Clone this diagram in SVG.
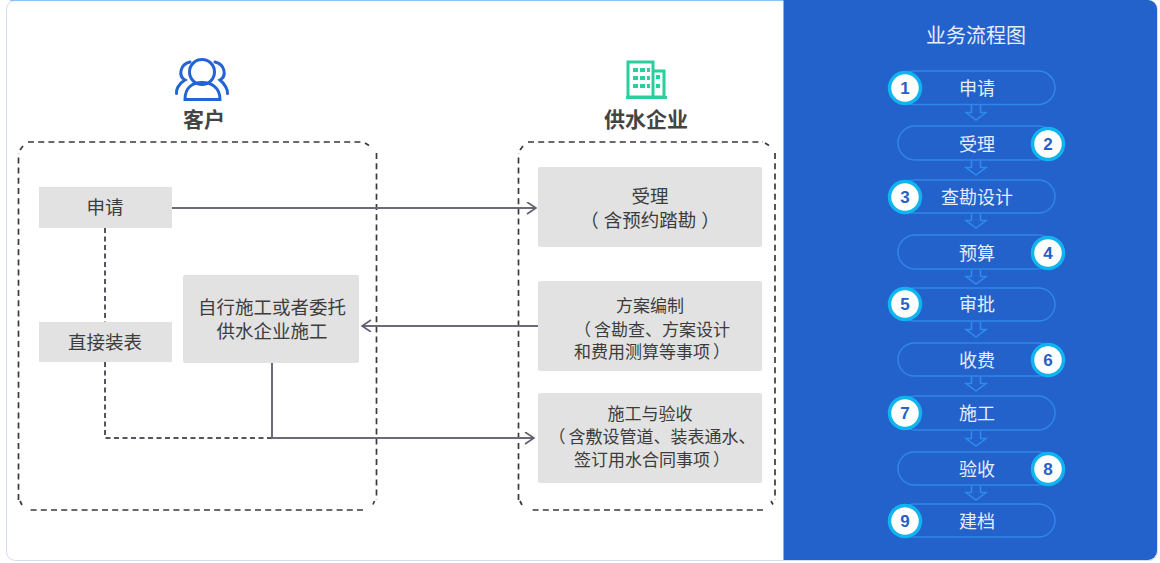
<svg xmlns="http://www.w3.org/2000/svg" width="1160" height="563" viewBox="0 0 1160 563">
<style>
text{font-family:"Liberation Sans","Noto Sans CJK SC",sans-serif;text-anchor:middle}
.box{fill:#e2e2e2}
.t{font-size:18.500px;fill:#3c3c3c}
.s{font-size:17px;fill:#3c3c3c}
.h{font-size:21px;font-weight:bold;fill:#444444}
.dash{fill:none;stroke:#3a3a3a;stroke-width:1.700;stroke-dasharray:6 4.200}
.tick{fill:none;stroke:#3a3a3a;stroke-width:1.700}
.conn{fill:none;stroke:#6a6a78;stroke-width:2}
.dconn{fill:none;stroke:#55555f;stroke-width:2;stroke-dasharray:5 3.500}
.pill{fill:none;stroke:#2f86ea;stroke-width:1.500}
.st{font-size:18px;fill:#e6eefb}
.c{fill:#fff;stroke:#0fb4f0;stroke-width:3.500}
.n{font-size:17px;font-weight:bold;fill:#2660c8}
.ar{fill:none;stroke:#2f8bf0;stroke-width:1.500}
.ic{fill:none;stroke:#2264d6;stroke-width:3;stroke-linecap:round}
.g{fill:none;stroke:#27d09c;stroke-width:3}
.gf{fill:#27d09c}
</style>
<defs>
<marker id="arr" markerWidth="14" markerHeight="14" refX="10" refY="6" orient="auto" markerUnits="userSpaceOnUse"><path d="M1 0L10 6L1 12" fill="none" stroke="#5e5e6c" stroke-width="1.600"/></marker>
<path id="dn" d="M-4.500 0V7.500H-10L0 15L10 7.500H4.500V0"/>
</defs>
<rect width="1160" height="563" fill="#ffffff"/>
<rect x="6.500" y="0.500" width="1151" height="560" rx="9" fill="#fff" stroke="#d5ddf0"/>
<path d="M10 0.500H784" stroke="#8fc3f2" fill="none"/>
<path d="M783.500 0H1148a9 9 0 0 1 9 9V551a9 9 0 0 1 -9 9H783.500Z" fill="#2361cb"/>
<g id="customer-header">
<circle cx="202" cy="72" r="12.500" class="ic"/>
<path class="ic" d="M185 99.500C185 87 193 82.500 202 82.500S220 87 220 99.500Z"/>
<path class="ic" d="M190 62C180 64 178 76 185 80C178 84 176 90 176.500 93.500"/>
<path class="ic" d="M215 62C225 64 227 76 220 80C225 84 228 90 227.500 93.500"/>
<text class="h" x="204" y="127">客户</text>
</g>
<g id="supplier-header">
<rect class="g" x="628" y="62" width="25" height="35"/>
<path class="g" d="M653 71H664V97H653M626 97.500H667"/>
<g class="gf"><rect x="633" y="68" width="5" height="4"/><rect x="640" y="68" width="5" height="4"/><rect x="647" y="68" width="3" height="4"/><rect x="633" y="76" width="5" height="4"/><rect x="640" y="76" width="5" height="4"/><rect x="647" y="76" width="3" height="4"/><rect x="633" y="84" width="5" height="4"/><rect x="640" y="84" width="5" height="4"/><rect x="647" y="84" width="3" height="4"/><rect x="656" y="75" width="4" height="4"/><rect x="656" y="84" width="4" height="4"/></g>
<text class="h" x="646" y="127">供水企业</text>
</g>
<g id="customer-zone">
<path class="dash" d="M28 142H363M376.500 153V500M363 510H30M18.500 500V153"/>
<path class="tick" d="M365 143L369 145.500M374.500 501L373 504.500M20 501L22 505M20 150L23 146"/>
</g>
<g id="supplier-zone">
<path class="dash" d="M528 142H763M775 153V500M763 510H530M518.500 500V153"/>
<path class="tick" d="M765 143L769 145.500M771 501L773 504.500M520 501L522 505M520 150L523 146"/>
</g>
<g id="connectors">
<path class="conn" d="M172 208H536" marker-end="url(#arr)"/>
<path class="conn" d="M538 326H362" marker-end="url(#arr)"/>
<path class="dconn" d="M105 228V322M105 362V438H272"/>
<path class="conn" d="M272 363V438M272 438H534" marker-end="url(#arr)"/>
</g>
<g id="apply"><rect class="box" x="39" y="187" width="133" height="41"/><text class="t" x="105" y="214">申请</text></g>
<g id="install"><rect class="box" x="39" y="322" width="133" height="40"/><text class="t" x="105" y="349">直接装表</text></g>
<g id="self-build"><rect class="box" x="183" y="275" width="176" height="88" rx="2"/><text class="t" x="272" y="314">自行施工或者委托</text><text class="t" x="272" y="338">供水企业施工</text></g>
<g id="accept"><rect class="box" x="538" y="167" width="224" height="80" rx="2"/><text class="t" x="650" y="203">受理</text><text class="t" x="650" y="227">（<tspan dx="5">含预约踏勘</tspan><tspan dx="5">）</tspan></text></g>
<g id="plan"><rect class="box" x="538" y="281" width="224" height="90" rx="2"/><text class="s" x="650" y="312">方案编制</text><text class="s" x="652" y="336">（<tspan dx="3">含勘查、方案设计</tspan></text><text class="s" x="652" y="358">和费用测算等事项<tspan dx="3">）</tspan></text></g>
<g id="build"><rect class="box" x="538" y="393" width="224" height="90" rx="2"/><text class="s" x="650" y="420">施工与验收</text><text class="s" x="652" y="443">（<tspan dx="3">含敷设管道、装表通水、</tspan></text><text class="s" x="652" y="466">签订用水合同事项<tspan dx="3">）</tspan></text></g>
<text x="976" y="43" style="font-size:20px;fill:#e6eefb">业务流程图</text>
<g id="flow-arrows" class="ar">
<use href="#dn" x="976" y="105"/><use href="#dn" x="976" y="160"/><use href="#dn" x="976" y="213"/><use href="#dn" x="976" y="269"/><use href="#dn" x="976" y="322"/><use href="#dn" x="976" y="376"/><use href="#dn" x="976" y="431"/><use href="#dn" x="976" y="485"/>
</g>
<g id="s1"><rect class="pill" x="898" y="71" width="157" height="33.500" rx="16.700"/><circle class="c" cx="905" cy="88" r="15.500"/><text class="n" x="905" y="94">1</text><text class="st" x="977" y="94.500">申请</text></g>
<g id="s2"><rect class="pill" x="898" y="126" width="157" height="34" rx="17"/><circle class="c" cx="1048" cy="144" r="15.500"/><text class="n" x="1048" y="150">2</text><text class="st" x="977" y="150.500">受理</text></g>
<g id="s3"><rect class="pill" x="898" y="180" width="157" height="33" rx="16.500"/><circle class="c" cx="905" cy="197" r="15.500"/><text class="n" x="905" y="203">3</text><text class="st" x="977" y="203.500">查勘设计</text></g>
<g id="s4"><rect class="pill" x="898" y="235" width="157" height="34" rx="17"/><circle class="c" cx="1048" cy="253" r="15.500"/><text class="n" x="1048" y="259">4</text><text class="st" x="977" y="259.500">预算</text></g>
<g id="s5"><rect class="pill" x="898" y="288" width="157" height="33" rx="16.500"/><circle class="c" cx="905" cy="304" r="15.500"/><text class="n" x="905" y="310">5</text><text class="st" x="977" y="310.500">审批</text></g>
<g id="s6"><rect class="pill" x="898" y="343" width="157" height="33" rx="16.500"/><circle class="c" cx="1048" cy="360" r="15.500"/><text class="n" x="1048" y="366">6</text><text class="st" x="977" y="366.500">收费</text></g>
<g id="s7"><rect class="pill" x="898" y="396" width="157" height="34" rx="17"/><circle class="c" cx="905" cy="413" r="15.500"/><text class="n" x="905" y="419">7</text><text class="st" x="977" y="419.500">施工</text></g>
<g id="s8"><rect class="pill" x="898" y="452" width="157" height="33" rx="16.500"/><circle class="c" cx="1048" cy="469" r="15.500"/><text class="n" x="1048" y="475">8</text><text class="st" x="977" y="475.500">验收</text></g>
<g id="s9"><rect class="pill" x="898" y="504" width="157" height="33" rx="16.500"/><circle class="c" cx="905" cy="521" r="15.500"/><text class="n" x="905" y="527">9</text><text class="st" x="977" y="528">建档</text></g>
</svg>
